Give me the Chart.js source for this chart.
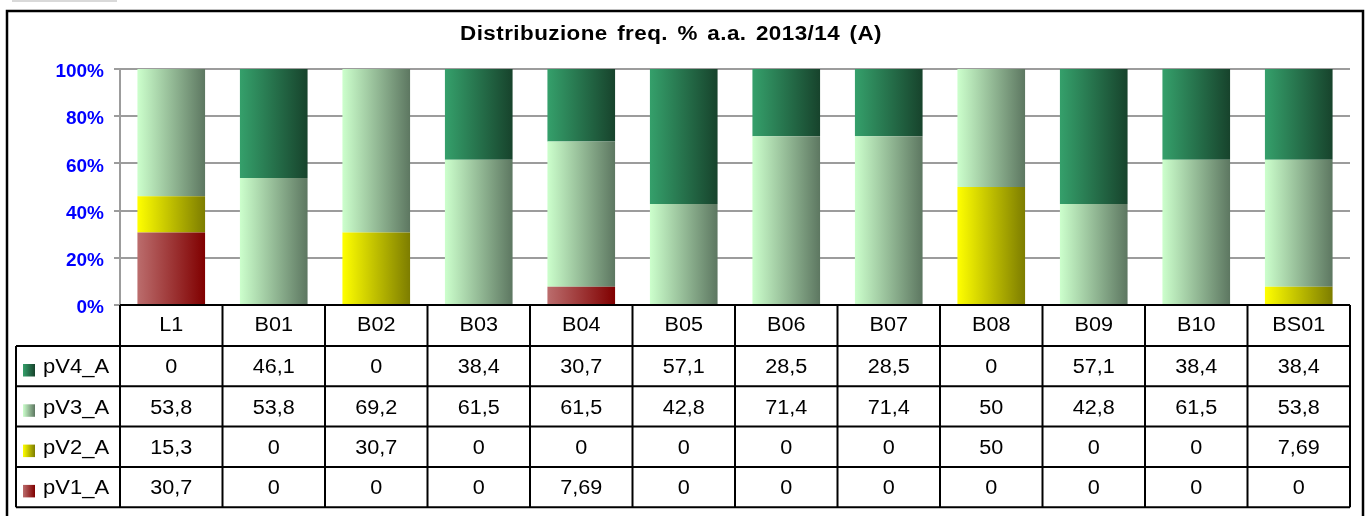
<!DOCTYPE html>
<html>
<head>
<meta charset="utf-8">
<script src="https://cdn.jsdelivr.net/npm/chart.js@4/dist/chart.umd.min.js"></script>
<style>
  html, body { margin: 0; padding: 0; background: #fff; }
  canvas { display: block; }
</style>
</head>
<body>
<canvas id="myChart" width="1365" height="516"></canvas>
<script>
const chartTitle = 'Distribuzione freq. % a.a. 2013/14 (A)';
const categories = ['L1', 'B01', 'B02', 'B03', 'B04', 'B05', 'B06', 'B07', 'B08', 'B09', 'B10', 'BS01'];
const pV4 = [0, 46.1, 0, 38.4, 30.7, 57.1, 28.5, 28.5, 0, 57.1, 38.4, 38.4];
const pV3 = [53.8, 53.8, 69.2, 61.5, 61.5, 42.8, 71.4, 71.4, 50, 42.8, 61.5, 53.8];
const pV2 = [15.3, 0, 30.7, 0, 0, 0, 0, 0, 50, 0, 0, 7.69];
const pV1 = [30.7, 0, 0, 0, 7.69, 0, 0, 0, 0, 0, 0, 0];
const yTicks = [0, 20, 40, 60, 80, 100];

// left -> right colours of each bar gradient
const colours = {
    pV1_A: ['#bb6d6d', '#800000'],
    pV2_A: ['#ffff00', '#7d7d00'],
    pV3_A: ['#ccffcc', '#5d7761'],
    pV4_A: ['#35a06b', '#17432c']
};

const font = '"Liberation Sans", Arial, sans-serif';
const barPct = 0.66;

// stacked values as percent of column total (100% stacked)
const totals = categories.map((c, i) => pV1[i] + pV2[i] + pV3[i] + pV4[i]);
function toPct(arr) {
    return arr.map((v, i) => totals[i] ? v / totals[i] * 100 : 0);
}

function barGradient(name) {
    return function (context) {
        var chart = context.chart;
        var area = chart.chartArea;
        if (!area || !chart.scales.x) return colours[name][0];
        var colW = (area.right - area.left) / categories.length;
        var cx = chart.scales.x.getPixelForValue(context.dataIndex);
        var half = colW * barPct / 2;
        var g = chart.ctx.createLinearGradient(cx - half, 0, cx + half, 0);
        g.addColorStop(0, colours[name][0]);
        g.addColorStop(1, colours[name][1]);
        return g;
    };
}

function fmt(v) {
    return String(v).replace('.', ',');
}

// text a bit wider than the font, like the original export
function wideText(ctx, text, x, y, align, sx) {
    ctx.save();
    ctx.translate(x, y);
    ctx.scale(sx, 1);
    ctx.textAlign = align;
    ctx.fillText(text, 0, 0);
    ctx.restore();
}

const tablePlugin = {
    id: 'dataTable',
    afterDraw(chart) {
        var ctx = chart.ctx;
        var area = chart.chartArea;
        var xs = chart.scales.x;
        var colW = (area.right - area.left) / categories.length;

        ctx.save();
        // little grey strip above the frame
        ctx.fillStyle = '#d9d9d9';
        ctx.fillRect(12, 0, 105, 2);

        // outer frame
        ctx.strokeStyle = '#000';
        ctx.lineWidth = 2.5;
        ctx.strokeRect(7, 11, 1356, 520);

        // title
        ctx.fillStyle = '#000';
        ctx.font = 'bold 20px ' + font;
        ctx.letterSpacing = '0.4px';
        ctx.wordSpacing = '2.5px';
        ctx.textBaseline = 'alphabetic';
        wideText(ctx, chartTitle, 671, 40, 'center', 1.12);
        ctx.wordSpacing = '0px';
        ctx.letterSpacing = '0px';

        // table grid
        var rows = [
            { name: 'pV4_A', values: pV4 },
            { name: 'pV3_A', values: pV3 },
            { name: 'pV2_A', values: pV2 },
            { name: 'pV1_A', values: pV1 }
        ];
        var headTop = area.bottom;
        var headBot = headTop + 41;
        var rowH = 40.3;
        var legLeft = 16;
        var tableBot = headBot + rows.length * rowH;

        ctx.lineWidth = 2;
        ctx.beginPath();
        ctx.moveTo(area.left, headTop);
        ctx.lineTo(area.right, headTop);
        for (var r = 0; r <= rows.length; r++) {
            var y = headBot + r * rowH;
            ctx.moveTo(legLeft, y);
            ctx.lineTo(area.right, y);
        }
        for (var i = 0; i <= categories.length; i++) {
            var x = area.left + i * colW;
            ctx.moveTo(x, headTop);
            ctx.lineTo(x, tableBot);
        }
        ctx.moveTo(legLeft, headBot);
        ctx.lineTo(legLeft, tableBot);
        ctx.stroke();

        // header labels
        ctx.font = '20px ' + font;
        ctx.textBaseline = 'alphabetic';
        categories.forEach(function (c, i) {
            wideText(ctx, c, xs.getPixelForValue(i), headTop + 25.5, 'center', 1.08);
        });

        // value rows + legend keys
        rows.forEach(function (row, ri) {
            var top = headBot + ri * rowH;
            ctx.fillStyle = '#000';
            row.values.forEach(function (v, i) {
                wideText(ctx, fmt(v), xs.getPixelForValue(i), top + 27.3, 'center', 1.08);
            });
            var g = ctx.createLinearGradient(23, 0, 35, 0);
            g.addColorStop(0, colours[row.name][0]);
            g.addColorStop(1, colours[row.name][1]);
            ctx.fillStyle = g;
            ctx.fillRect(23, top + 18, 12, 12.5);
            ctx.fillStyle = '#000';
            wideText(ctx, row.name, 43, top + 27.3, 'left', 1.1);
        });
        ctx.restore();
    }
};

const datasets = [
    { label: 'pV1_A', data: toPct(pV1), backgroundColor: barGradient('pV1_A') },
    { label: 'pV2_A', data: toPct(pV2), backgroundColor: barGradient('pV2_A') },
    { label: 'pV3_A', data: toPct(pV3), backgroundColor: barGradient('pV3_A') },
    { label: 'pV4_A', data: toPct(pV4), backgroundColor: barGradient('pV4_A') }
].map(d => Object.assign(d, { borderWidth: 0, barPercentage: barPct, categoryPercentage: 1 }));

var ctx = document.getElementById('myChart').getContext('2d');
var myChart = new Chart(ctx, {
    type: 'bar',
    data: {
        labels: categories,
        datasets: datasets
    },
    options: {
        responsive: false,
        animation: false,
        events: [],
        layout: {
            padding: { top: 69, right: 15, bottom: 211, left: 0 }
        },
        plugins: {
            legend: { display: false },
            title: { display: false },
            tooltip: { enabled: false }
        },
        scales: {
            x: {
                stacked: true,
                display: false
            },
            y: {
                stacked: true,
                min: 0,
                max: 100,
                afterFit: function (scale) { scale.width = 120; },
                afterBuildTicks: function (scale) {
                    scale.ticks = yTicks.map(v => ({ value: v }));
                },
                grid: {
                    color: '#9c9c9c',
                    lineWidth: 2,
                    tickLength: 6
                },
                border: { color: '#9c9c9c', width: 2 },
                ticks: {
                    color: '#0000ff',
                    padding: 10,
                    labelOffset: 3,
                    font: { family: font, size: 19, weight: 'bold' },
                    callback: function (v) { return v + '%'; }
                }
            }
        }
    },
    plugins: [tablePlugin]
});
</script>
</body>
</html>
